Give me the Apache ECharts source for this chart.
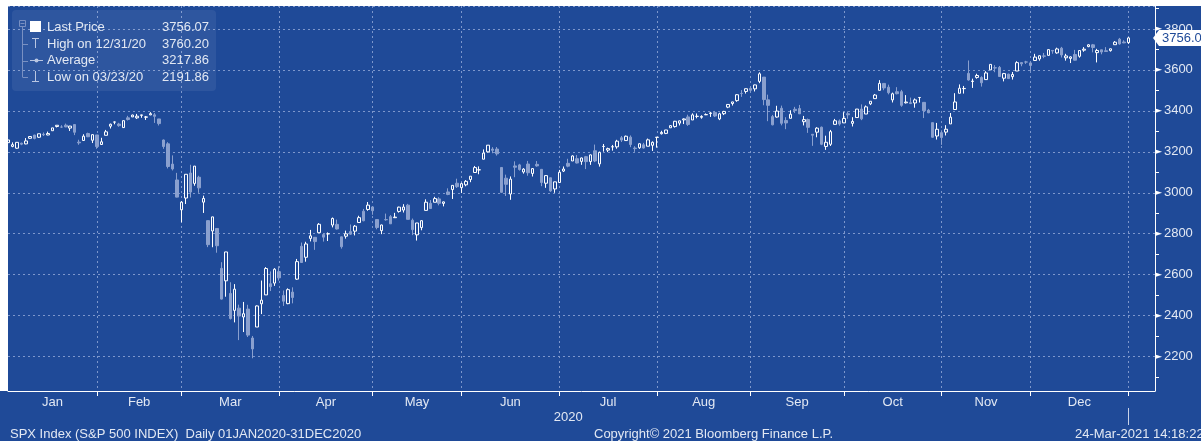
<!DOCTYPE html>
<html><head><meta charset="utf-8">
<script src="https://cdn.jsdelivr.net/npm/echarts@6/dist/echarts.min.js"></script>
<style>html,body{margin:0;padding:0;background:#fff}#c{width:1201px;height:441px}</style>
</head><body><div id="c"></div>
<script>
// ---------------- DATA ----------------
const monthNames = ['Jan','Feb','Mar','Apr','May','Jun','Jul','Aug','Sep','Oct','Nov','Dec'];
const monthDays = [
 [2,3,6,7,8,9,10,13,14,15,16,17,21,22,23,24,27,28,29,30,31],
 [3,4,5,6,7,10,11,12,13,14,18,19,20,21,24,25,26,27,28],
 [2,3,4,5,6,9,10,11,12,13,16,17,18,19,20,23,24,25,26,27,30,31],
 [1,2,3,6,7,8,9,13,14,15,16,17,20,21,22,23,24,27,28,29,30],
 [1,4,5,6,7,8,11,12,13,14,15,18,19,20,21,22,26,27,28,29],
 [1,2,3,4,5,8,9,10,11,12,15,16,17,18,19,22,23,24,25,26,29,30],
 [1,2,6,7,8,9,10,13,14,15,16,17,20,21,22,23,24,27,28,29,30,31],
 [3,4,5,6,7,10,11,12,13,14,17,18,19,20,21,24,25,26,27,28,31],
 [1,2,3,4,8,9,10,11,14,15,16,17,18,21,22,23,24,25,28,29,30],
 [1,2,5,6,7,8,9,12,13,14,15,16,19,20,21,22,23,26,27,28,29,30],
 [2,3,4,5,6,9,10,11,12,13,16,17,18,19,20,23,24,25,27,30],
 [1,2,3,4,7,8,9,10,11,14,15,16,17,18,21,22,23,24,28,29,30,31]
];
const open = [
 3244.67,3226.36,3217.55,3241.86,3238.59,3266.03,3281.81,3271.13,3285.35,3282.27,3302.97,3323.66,3321.03,3330.02,3315.77,3333.10,3247.16,3255.35,3289.46,3256.45,3282.33,
 3235.66,3280.61,3324.91,3344.92,3335.54,3318.28,3365.87,3370.50,3365.90,3378.08,3369.04,3380.39,3380.45,3360.50,3257.61,3238.94,3139.90,3062.54,2916.90,
 2974.28,3096.46,3045.75,3075.70,2954.20,2863.89,2813.48,2825.60,2630.86,2569.99,2508.59,2425.66,2436.50,2393.48,2431.94,2290.71,2344.44,2457.77,2501.29,2555.87,2558.98,2614.69,
 2498.08,2458.54,2514.92,2578.28,2738.65,2685.00,2776.99,2782.46,2805.10,2795.64,2799.34,2842.43,2845.62,2784.81,2787.89,2810.42,2812.64,2854.65,2909.96,2918.46,2930.91,
 2869.09,2815.01,2868.88,2883.14,2878.26,2908.83,2915.46,2939.50,2865.86,2794.54,2829.95,2913.86,2948.59,2953.63,2969.95,2948.05,3004.08,3015.65,3046.61,3025.17,
 3038.78,3064.78,3098.90,3111.56,3163.84,3199.92,3213.32,3213.42,3123.53,3071.04,2993.76,3131.00,3136.13,3101.64,3140.29,3094.42,3138.70,3114.40,3046.60,3073.20,3018.59,3050.20,
 3105.92,3143.64,3155.29,3166.44,3153.07,3176.17,3152.47,3205.08,3141.11,3225.98,3208.36,3224.21,3224.29,3268.52,3254.86,3271.64,3218.58,3219.84,3234.27,3227.22,3231.76,3270.45,
 3288.26,3289.92,3317.37,3323.17,3340.05,3356.04,3370.34,3355.46,3372.95,3368.66,3380.86,3387.04,3392.51,3360.48,3386.01,3418.09,3435.95,3449.97,3485.14,3494.69,3509.73,
 3507.44,3543.76,3564.74,3453.60,3371.88,3369.82,3412.56,3352.70,3363.56,3407.73,3411.23,3346.86,3357.38,3285.57,3295.75,3320.11,3226.14,3236.66,3333.90,3350.92,3341.21,
 3385.87,3338.94,3367.27,3408.74,3384.56,3434.28,3459.67,3500.02,3534.01,3515.47,3453.72,3493.50,3493.66,3439.38,3439.91,3438.50,3464.90,3441.42,3403.15,3342.48,3277.17,3293.59,
 3296.20,3336.25,3406.46,3485.74,3508.34,3583.04,3543.26,3563.22,3562.67,3552.57,3600.16,3610.31,3612.09,3559.41,3579.31,3566.82,3594.52,3635.50,3638.55,3634.18,
 3645.87,3653.78,3668.28,3670.94,3694.73,3683.05,3705.98,3659.13,3656.08,3675.27,3666.41,3696.25,3713.65,3722.39,3684.28,3698.08,3693.42,3694.03,3723.03,3750.01,3736.19,3733.27
];
const high = [
 3258.14,3246.15,3246.84,3244.91,3267.07,3275.58,3282.99,3288.13,3294.25,3298.66,3317.11,3329.88,3329.79,3337.77,3326.88,3333.18,3258.85,3285.78,3293.47,3285.91,3282.33,
 3268.44,3306.92,3337.58,3347.96,3341.42,3352.26,3375.63,3381.47,3385.09,3380.69,3375.01,3393.52,3389.15,3360.76,3259.81,3246.99,3182.51,3097.07,2959.72,
 3090.96,3136.72,3130.97,3083.04,2985.93,2863.89,2882.59,2825.60,2660.95,2711.33,2562.98,2553.93,2453.57,2466.97,2453.01,2300.73,2449.71,2571.42,2637.01,2615.91,2631.80,2641.39,
 2522.75,2533.22,2538.18,2676.85,2756.89,2760.75,2818.57,2782.46,2851.85,2801.88,2806.51,2879.22,2868.98,2785.54,2815.10,2844.90,2842.71,2887.72,2921.15,2954.86,2930.91,
 2869.09,2844.24,2898.23,2891.11,2901.92,2932.16,2944.25,2945.82,2874.14,2852.80,2865.01,2968.09,2964.21,2980.29,2978.50,2956.76,3021.72,3036.25,3068.67,3049.17,
 3062.18,3081.07,3130.94,3128.91,3211.72,3233.13,3222.71,3223.27,3123.53,3088.42,3079.76,3153.45,3141.16,3120.00,3155.53,3120.92,3154.90,3115.01,3086.25,3073.73,3053.89,3111.51,
 3128.44,3165.81,3182.59,3184.15,3171.80,3179.78,3186.82,3235.32,3200.95,3238.28,3220.39,3233.52,3258.61,3277.29,3279.32,3279.99,3227.26,3241.43,3243.72,3264.74,3250.92,3272.17,
 3302.73,3306.84,3330.77,3351.03,3352.54,3363.29,3381.01,3387.89,3387.24,3378.51,3387.59,3395.06,3399.54,3390.80,3399.96,3432.09,3444.21,3481.07,3501.38,3509.23,3514.77,
 3528.03,3588.11,3564.85,3479.15,3379.97,3424.77,3425.55,3368.95,3402.93,3419.48,3428.92,3375.17,3362.27,3285.57,3320.31,3323.35,3278.70,3306.88,3360.74,3357.92,3393.56,
 3397.18,3369.10,3409.57,3431.56,3426.26,3447.28,3482.34,3549.85,3534.01,3527.94,3489.08,3515.76,3502.42,3476.93,3464.86,3460.53,3466.46,3441.42,3409.51,3342.48,3341.05,3304.93,
 3330.14,3389.49,3486.25,3529.05,3521.58,3645.99,3557.22,3581.16,3569.02,3593.66,3628.51,3623.11,3619.09,3585.22,3581.23,3589.81,3642.31,3635.50,3644.31,3634.18,
 3678.45,3670.96,3682.73,3699.20,3697.41,3708.45,3712.39,3678.49,3665.91,3697.61,3695.29,3711.27,3725.12,3726.70,3702.90,3698.26,3711.24,3703.82,3740.51,3756.12,3744.63,3760.20
];
const low = [
 3235.53,3222.34,3214.64,3232.43,3236.67,3263.67,3260.86,3268.43,3277.19,3280.69,3302.82,3318.86,3316.61,3320.04,3301.87,3281.53,3234.50,3253.22,3271.89,3242.80,3214.68,
 3235.66,3280.61,3313.75,3334.39,3322.12,3317.77,3352.72,3369.72,3360.52,3366.15,3355.61,3378.83,3341.02,3328.45,3214.65,3118.77,3108.99,2977.39,2855.84,
 2945.19,2976.63,3034.38,2999.83,2901.54,2734.43,2734.00,2707.22,2478.86,2492.37,2380.94,2367.04,2280.52,2319.78,2295.56,2191.86,2344.44,2407.53,2500.72,2520.02,2545.28,2571.15,
 2447.49,2455.79,2459.96,2574.57,2657.67,2663.30,2762.36,2721.17,2805.10,2761.54,2764.32,2830.88,2820.43,2727.10,2775.95,2794.26,2791.76,2852.89,2860.71,2912.16,2892.47,
 2821.61,2797.85,2863.55,2847.65,2876.48,2902.88,2903.44,2869.59,2793.15,2766.64,2816.78,2913.86,2922.35,2953.63,2938.57,2933.59,2988.17,2969.75,3023.40,2998.61,
 3031.54,3051.64,3098.90,3090.41,3163.84,3196.00,3193.11,3181.49,2999.49,2984.47,2965.66,3076.06,3108.03,3093.51,3083.11,3079.39,3127.12,3032.13,3024.01,3004.63,2999.74,3047.83,
 3101.17,3124.52,3155.29,3142.93,3136.53,3115.70,3136.22,3149.43,3127.66,3200.76,3198.59,3205.65,3215.16,3247.77,3253.10,3222.66,3200.05,3214.25,3216.17,3227.22,3204.13,3220.26,
 3284.53,3286.37,3317.37,3318.14,3328.72,3335.44,3326.44,3355.46,3363.35,3361.64,3379.22,3370.15,3369.66,3354.69,3379.31,3413.13,3425.84,3444.15,3468.35,3484.32,3493.25,
 3494.60,3535.23,3427.41,3349.63,3329.27,3366.84,3329.25,3310.47,3363.56,3389.25,3384.45,3328.82,3292.40,3229.10,3270.95,3232.57,3209.45,3228.44,3332.91,3327.54,3340.47,
 3361.39,3323.69,3367.27,3354.54,3384.56,3428.15,3458.07,3499.61,3500.86,3480.55,3440.89,3480.45,3419.93,3435.65,3433.06,3415.34,3440.45,3364.86,3388.71,3268.89,3259.82,3233.94,
 3279.74,3336.25,3405.17,3485.74,3484.34,3547.48,3511.91,3557.00,3518.58,3552.57,3600.16,3588.68,3567.33,3543.84,3556.85,3552.77,3594.52,3617.76,3629.33,3594.39,
 3645.87,3644.84,3657.17,3670.94,3678.88,3678.83,3660.54,3645.18,3633.40,3645.84,3659.62,3688.57,3710.87,3685.84,3636.48,3676.16,3689.28,3689.32,3723.03,3723.31,3730.21,3726.88
];
const close = [
 3257.85,3234.85,3246.28,3237.18,3253.05,3274.70,3265.35,3288.13,3283.15,3289.29,3316.81,3329.62,3320.79,3321.75,3325.54,3295.47,3243.63,3276.24,3273.40,3283.66,3225.52,
 3248.92,3297.59,3334.69,3345.78,3327.71,3352.09,3357.75,3379.45,3373.94,3380.16,3370.29,3386.15,3373.23,3337.75,3225.89,3128.21,3116.39,2978.76,2954.22,
 3090.23,3003.37,3130.12,3023.94,2972.37,2746.56,2882.23,2741.38,2480.64,2711.02,2386.13,2529.19,2398.10,2409.39,2304.92,2237.40,2447.33,2475.56,2630.07,2541.47,2626.65,2584.59,
 2470.50,2526.90,2488.65,2663.68,2659.41,2749.98,2789.82,2761.63,2846.06,2783.36,2799.55,2874.56,2823.16,2736.56,2799.31,2797.80,2836.74,2878.48,2863.39,2939.51,2912.43,
 2830.71,2842.74,2868.44,2848.42,2881.19,2929.80,2930.32,2870.12,2820.00,2852.50,2863.70,2953.91,2922.94,2971.61,2948.51,2955.45,2991.77,3036.13,3029.73,3044.31,
 3055.73,3080.82,3122.87,3112.35,3193.93,3232.39,3207.18,3190.14,3002.10,3041.31,3066.59,3124.74,3113.49,3115.34,3097.74,3117.86,3131.29,3050.33,3083.76,3009.05,3053.24,3100.29,
 3115.86,3130.01,3179.72,3145.32,3169.94,3152.05,3185.04,3155.22,3197.52,3226.56,3215.57,3224.73,3251.84,3257.30,3276.02,3235.66,3215.63,3239.41,3218.44,3258.44,3246.22,3271.12,
 3294.61,3306.51,3327.77,3349.16,3351.28,3360.47,3333.69,3380.35,3373.43,3372.85,3381.99,3389.78,3374.85,3385.51,3397.16,3431.28,3443.62,3478.73,3484.55,3508.01,3500.31,
 3526.65,3580.84,3455.06,3426.96,3331.84,3398.96,3339.19,3340.97,3383.54,3401.20,3385.49,3357.01,3319.47,3281.06,3315.57,3236.92,3246.59,3298.46,3351.60,3335.47,3363.00,
 3380.80,3348.42,3408.60,3360.97,3419.44,3446.83,3477.14,3534.22,3511.93,3488.67,3483.34,3483.81,3426.92,3443.12,3435.56,3453.49,3465.39,3400.97,3390.68,3271.03,3310.11,3269.96,
 3310.24,3369.16,3443.44,3510.45,3509.44,3550.50,3545.53,3572.66,3537.01,3585.15,3626.91,3609.53,3567.79,3581.87,3557.54,3577.59,3635.41,3629.65,3638.35,3621.63,
 3662.45,3669.01,3666.72,3699.12,3691.96,3702.25,3672.82,3668.10,3663.46,3647.49,3694.62,3701.17,3722.48,3709.41,3694.92,3687.26,3690.01,3703.06,3735.36,3727.04,3732.04,3756.07
];
const yLabelValues = [2200,2400,2600,2800,3000,3200,3400,3600,3800];
const yMinorValues = [2100,2300,2500,2700,2900,3100,3300,3500,3700,3900];
const legendLabels = ['Last Price','High on 12/31/20','Average','Low on 03/23/20'];
const legendValues = ['3756.07','3760.20','3217.86','2191.86'];
const lastPriceTag = '3756.07';
const lastPrice = 3756.07;
const yearLabel = '2020';
const footerLeft = 'SPX Index (S&P 500 INDEX)  Daily 01JAN2020-31DEC2020';
const footerMid = 'Copyright\u00A9 2021 Bloomberg Finance L.P.';
const footerRight = '24-Mar-2021 14:18:22';
const PAD_DAYS = 6;

// ---------------- BUILD ----------------
const BG = '#1f4a98';
const TXT = '#e2e8f3';
const FONT = "'Liberation Sans', Arial, sans-serif";
const DOWN = '#8aa0cf';
const GRIDC = '#7d97cc';

const cats = [];
const monthEnd = new Set();
const labelAt = {};
let prevEnd = 0;
monthDays.forEach((days, m) => {
  days.forEach(d => cats.push(monthNames[m] + ' ' + d));
  const end = cats.length - 1;
  monthEnd.add(end);
  const mid = (prevEnd + end) / 2;
  labelAt[Math.floor(mid)] = { name: monthNames[m], half: (mid % 1) !== 0 };
  prevEnd = end;
});
const nData = cats.length;
for (let i = 0; i < PAD_DAYS; i++) cats.push('pad' + i);
const candles = open.map((o, i) => [o, close[i], low[i], high[i]]);
const band = 1147 / (cats.length - 1);

const chart = echarts.init(document.getElementById('c'), null, { renderer: 'canvas' });
const YMIN = 2032, YMAX = 3912;
chart.setOption({
  animation: false,
  backgroundColor: BG,
  grid: { left: 8, right: 46, top: 6, bottom: 50, containLabel: false },
  xAxis: {
    type: 'category', data: cats, boundaryGap: false,
    axisLine: { show: true, lineStyle: { color: '#ffffff', width: 1 } },
    axisTick: { show: true, length: 5, interval: (i) => monthEnd.has(i), lineStyle: { color: '#ffffff' } },
    splitLine: { show: true, interval: (i) => monthEnd.has(i), lineStyle: { color: GRIDC, type: [2, 3], width: 1 } },
    axisLabel: {
      show: true, interval: (i) => labelAt[i] !== undefined, margin: 5,
      color: TXT, fontFamily: FONT, fontSize: 13,
      formatter: (v, i) => { const l = labelAt[i]; if (!l) return ''; return l.half ? '{h|' + l.name + '}' : '{n|' + l.name + '}'; },
      rich: { n: { color: TXT, fontFamily: FONT, fontSize: 13 }, h: { color: TXT, fontFamily: FONT, fontSize: 13, padding: [0, 0, 0, band] } }
    }
  },
  yAxis: [{
    type: 'value', position: 'right', min: YMIN, max: YMAX, splitNumber: 9, minInterval: 200, maxInterval: 200,
    axisLine: { show: true, lineStyle: { color: '#ffffff', width: 1 } },
    axisTick: { show: false },
    splitLine: { show: true, lineStyle: { color: GRIDC, type: [2, 3], width: 1 } },
    axisLabel: {
      show: true, margin: 0, customValues: yLabelValues,
      formatter: (v) => '{t|\u25BA}{v|' + v + '}',
      rich: {
        t: { color: '#ffffff', fontFamily: 'DejaVu Sans', fontSize: 9, padding: [0, 2, 0, 0] },
        v: { color: TXT, fontFamily: FONT, fontSize: 13 }
      }
    }
  }, {
    type: 'value', position: 'right', min: YMIN, max: YMAX,
    axisLine: { show: false }, splitLine: { show: false }, axisLabel: { show: false },
    axisTick: { show: true, length: 4, customValues: yMinorValues, lineStyle: { color: '#ffffff' } }
  }],
  series: [{
    type: 'candlestick', data: candles, barWidth: 3,
    itemStyle: { color: BG, color0: DOWN, borderColor: '#ffffff', borderColor0: DOWN, borderWidth: 1 }
  }]
});

// decorations positioned through the chart's scales
const px0 = chart.convertToPixel({ xAxisIndex: 0 }, 0);
const pxEnd = chart.convertToPixel({ xAxisIndex: 0 }, nData - 1);
const yTag = chart.convertToPixel({ yAxisIndex: 0 }, lastPrice);
const rowsY = [27, 44, 60.5, 77];
const iconC = '#b9c6e2';
const treeC = '#7990c2';
const g = [
  { type: 'rect', z: 100, shape: { x: 0, y: 0, width: 1201, height: 6 }, style: { fill: '#ffffff' } },
  { type: 'rect', z: 100, shape: { x: 0, y: 0, width: 8, height: 391 }, style: { fill: '#ffffff' } },
  // last price tag
  { type: 'polygon', z: 100, shape: { points: [[1153, yTag], [1159, yTag - 8], [1205, yTag - 8], [1205, yTag + 8], [1159, yTag + 8]] }, style: { fill: '#ffffff' } },
  { type: 'text', z: 101, x: 1162, y: yTag, style: { text: lastPriceTag, fill: BG, font: '13px ' + FONT, verticalAlign: 'middle', align: 'left' } },
  // year label + year-end marker
  { type: 'text', z: 100, x: (px0 + pxEnd) / 2, y: 417, style: { text: yearLabel, fill: TXT, font: '13px ' + FONT, align: 'center', verticalAlign: 'middle' } },
  { type: 'line', z: 100, shape: { x1: Math.round(pxEnd) + 0.5, y1: 408, x2: Math.round(pxEnd) + 0.5, y2: 425 }, style: { stroke: '#c9d3e8', lineWidth: 1 } },
  // footer
  { type: 'text', z: 100, x: 10, y: 434, style: { text: footerLeft, fill: TXT, font: '13px ' + FONT, verticalAlign: 'middle' } },
  { type: 'text', z: 100, x: 594, y: 434, style: { text: footerMid, fill: TXT, font: '13px ' + FONT, verticalAlign: 'middle' } },
  { type: 'text', z: 100, x: 1075, y: 434, style: { text: footerRight, fill: TXT, font: '13px ' + FONT, verticalAlign: 'middle' } },
  // legend box
  { type: 'rect', z: 100, shape: { x: 12, y: 10, width: 204, height: 81, r: 4 }, style: { fill: 'rgba(255,255,255,0.07)' } },
  { type: 'rect', z: 101, shape: { x: 19.5, y: 20.5, width: 6, height: 6 }, style: { fill: 'none', stroke: treeC, lineWidth: 1 } },
  { type: 'line', z: 101, shape: { x1: 20.5, y1: 23.5, x2: 24.5, y2: 23.5 }, style: { stroke: treeC } },
  { type: 'line', z: 101, shape: { x1: 22.5, y1: 27, x2: 22.5, y2: rowsY[3] }, style: { stroke: treeC } },
  { type: 'rect', z: 101, shape: { x: 30, y: 21, width: 11, height: 11 }, style: { fill: '#ffffff' } },
  { type: 'line', z: 101, shape: { x1: 32, y1: 38.5, x2: 39, y2: 38.5 }, style: { stroke: iconC } },
  { type: 'line', z: 101, shape: { x1: 35.5, y1: 38.5, x2: 35.5, y2: 48 }, style: { stroke: iconC } },
  { type: 'line', z: 101, shape: { x1: 30, y1: 60.5, x2: 43, y2: 60.5 }, style: { stroke: iconC } },
  { type: 'circle', z: 102, shape: { cx: 36.5, cy: 60.5, r: 2 }, style: { fill: iconC } },
  { type: 'line', z: 101, shape: { x1: 35.5, y1: 71, x2: 35.5, y2: 81.5 }, style: { stroke: iconC } },
  { type: 'line', z: 101, shape: { x1: 32, y1: 81.5, x2: 39, y2: 81.5 }, style: { stroke: iconC } }
];
[1, 2, 3].forEach(k => g.push({ type: 'line', z: 101, shape: { x1: 22.5, y1: Math.round(rowsY[k]) + 0.5, x2: 28, y2: Math.round(rowsY[k]) + 0.5 }, style: { stroke: treeC } }));
legendLabels.forEach((t, k) => {
  g.push({ type: 'text', z: 102, x: 47, y: rowsY[k], style: { text: t, fill: TXT, font: '13px ' + FONT, verticalAlign: 'middle' } });
  g.push({ type: 'text', z: 102, x: 209, y: rowsY[k], style: { text: legendValues[k], fill: TXT, font: '13px ' + FONT, verticalAlign: 'middle', align: 'right' } });
});
chart.setOption({ graphic: g });
</script></body></html>
